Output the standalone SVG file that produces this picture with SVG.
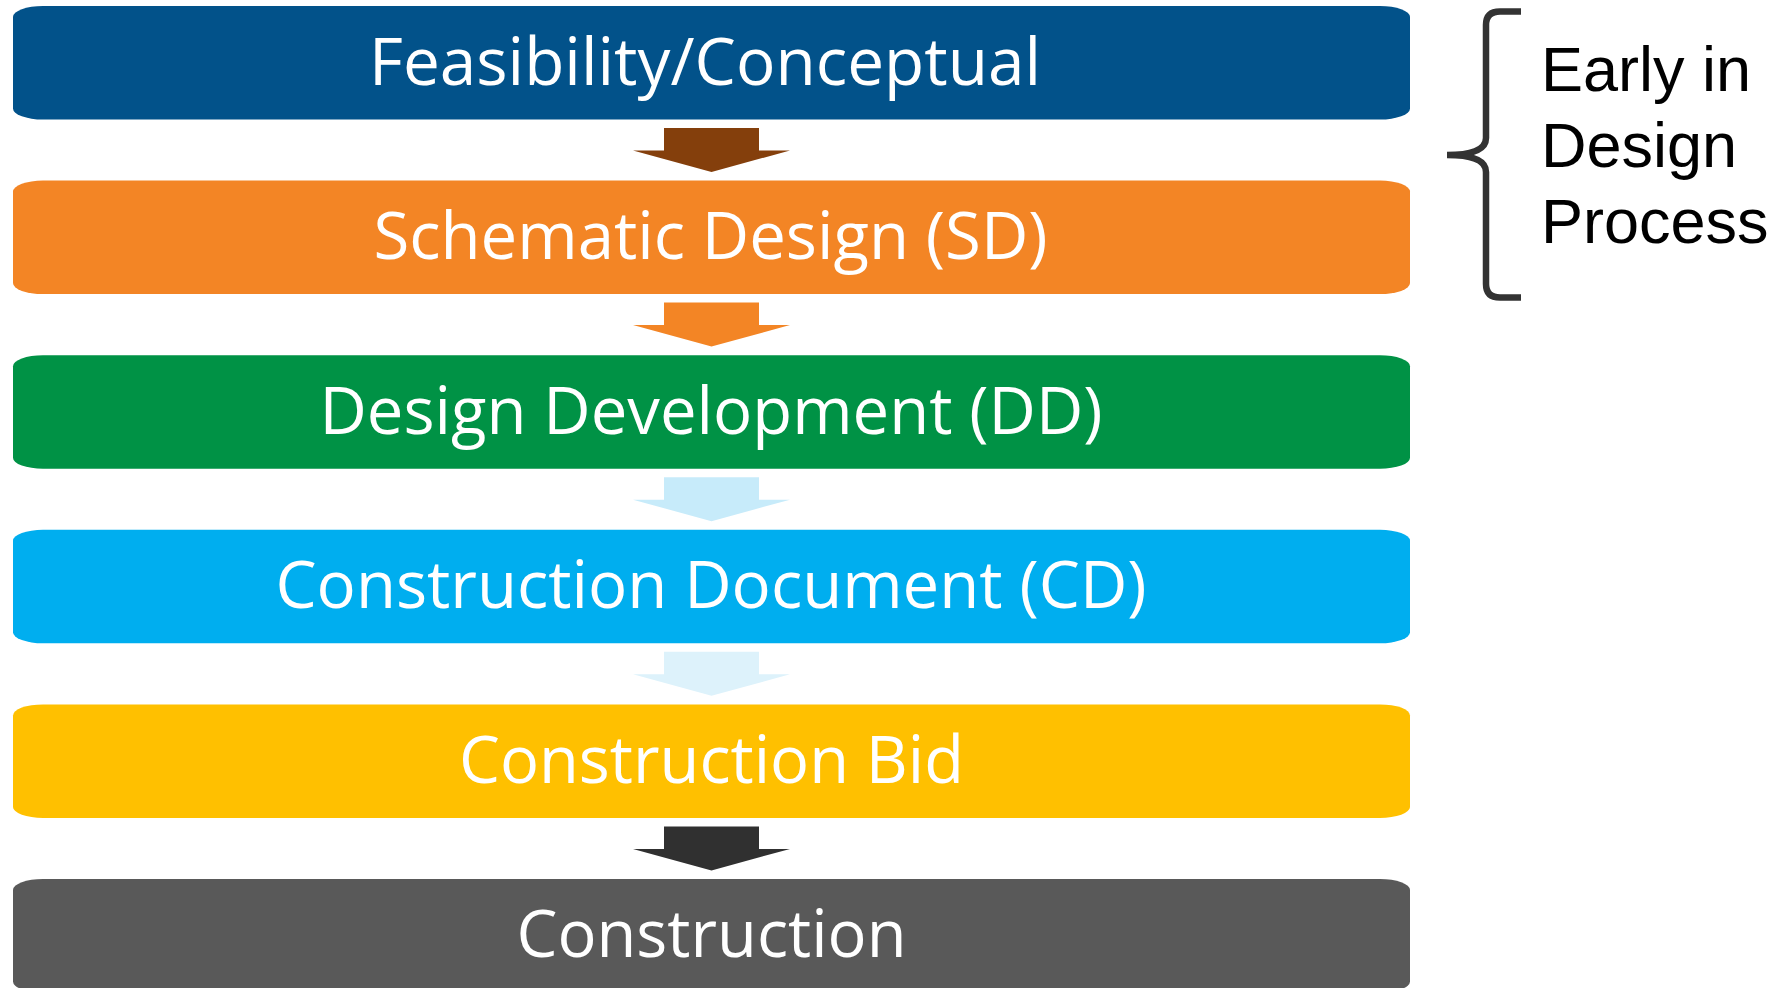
<svg xmlns="http://www.w3.org/2000/svg" width="1784" height="988" viewBox="0 0 1784 988">
<style>
.lbl{font-family:"Open Sans","Noto Sans",sans-serif;font-size:66px;fill:#fff;text-anchor:middle}
.side{font-family:"Liberation Sans",Arial,sans-serif;font-size:63px;fill:#000}
</style>
<rect width="1784" height="988" fill="#fff"/>
<g id="connectors">
<polygon fill="#843F0C" points="664,128 759,128 759,150.5 790,150.5 711.5,172 633,150.5 664,150.5"/>
<polygon fill="#F38525" points="664,302.6 759,302.6 759,325.1 790,325.1 711.5,346.6 633,325.1 664,325.1"/>
<polygon fill="#C7EBFA" points="664,477.2 759,477.2 759,499.7 790,499.7 711.5,521.2 633,499.7 664,499.7"/>
<polygon fill="#DDF2FB" points="664,651.8 759,651.8 759,674.3 790,674.3 711.5,695.8 633,674.3 664,674.3"/>
<polygon fill="#303030" points="664,826.4 759,826.4 759,848.9 790,848.9 711.5,870.4 633,848.9 664,848.9"/>
</g>
<g id="n1"><rect x="13" y="6" width="1397" height="113.5" rx="30" ry="11" fill="#02528A"/><text class="lbl" x="705" y="84.5" textLength="672" lengthAdjust="spacingAndGlyphs">Feasibility/Conceptual</text></g>
<g id="n2"><rect x="13" y="180.6" width="1397" height="113.5" rx="30" ry="11" fill="#F38525"/><text class="lbl" x="710.5" y="259" textLength="674" lengthAdjust="spacingAndGlyphs">Schematic Design (SD)</text></g>
<g id="n3"><rect x="13" y="355.2" width="1397" height="113.5" rx="30" ry="11" fill="#009245"/><text class="lbl" x="711" y="433.6" textLength="783" lengthAdjust="spacingAndGlyphs">Design Development (DD)</text></g>
<g id="n4"><rect x="13" y="529.8" width="1397" height="113.5" rx="30" ry="11" fill="#00AEEF"/><text class="lbl" x="711" y="608.2" textLength="871" lengthAdjust="spacingAndGlyphs">Construction Document (CD)</text></g>
<g id="n5"><rect x="13" y="704.4" width="1397" height="113.5" rx="30" ry="11" fill="#FFC000"/><text class="lbl" x="711.5" y="782.8" textLength="505" lengthAdjust="spacingAndGlyphs">Construction Bid</text></g>
<g id="n6"><rect x="13" y="879" width="1397" height="113.5" rx="30" ry="11" fill="#595959"/><text class="lbl" x="711.5" y="957.4" textLength="390" lengthAdjust="spacingAndGlyphs">Construction</text></g>
<g id="brace">
<path d="M1521,11.5 L1500,11.5 Q1486,11.5 1486,25 L1486,138 Q1486,155 1447,155 Q1486,155 1486,172 L1486,284 Q1486,297.5 1500,297.5 L1521,297.5" fill="none" stroke="#333" stroke-width="6.5"/>
<text class="side" x="1541" y="91">Early in</text>
<text class="side" x="1541" y="167">Design</text>
<text class="side" x="1541" y="243">Process</text>
</g>
</svg>
